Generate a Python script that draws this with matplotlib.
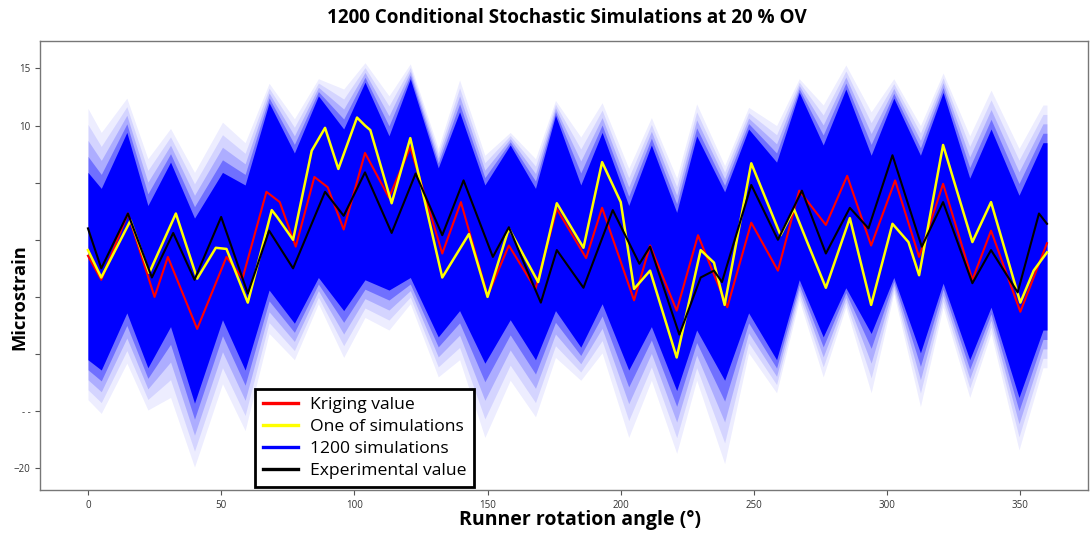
import numpy as np
import matplotlib
matplotlib.use("Agg")
import matplotlib.pyplot as plt
from matplotlib.lines import Line2D

# ---------------- data ----------------
kriging_deg = [0, 5, 15, 25, 30, 41, 52, 58, 67, 72, 78, 85, 90, 96, 104, 113, 121, 133, 140, 150,
               158, 168, 176, 187, 193, 205, 211, 221, 229, 240, 249, 259, 267, 277, 285, 294, 303,
               312, 321, 332, 339, 350, 360]
kriging_val = [-1.4, -3.5, 2.3, -5.0, -1.5, -7.8, -1.5, -3.4, 4.2, 3.3, -0.6, 5.5, 4.6, 0.9, 7.6, 3.7,
               8.1, -1.2, 3.3, -4.9, -0.5, -4.3, 2.7, -1.6, 2.8, -5.3, -0.5, -6.2, 0.4, -5.9, 1.5, -2.7,
               4.3, 1.3, 5.6, -0.5, 5.2, -1.5, 4.9, -3.5, 0.8, -6.3, -0.3]

exp_deg = [0, 5, 15, 24, 32, 40, 50, 60, 68, 77, 89, 96, 104, 114, 123, 133, 141, 152, 158, 170,
           176, 186, 197, 207, 211, 222, 230, 235, 238, 249, 259, 268, 277, 286, 293, 302, 313,
           321, 332, 339, 349, 357, 360]
exp_val = [1.0, -2.5, 2.3, -3.3, 0.6, -3.5, 2.0, -4.7, 0.8, -2.5, 4.2, 2.1, 5.9, 0.6, 5.8, 0.4, 5.2,
           -1.5, 1.1, -5.5, -0.9, -4.2, 2.6, -2.1, -0.6, -8.3, -3.3, -2.7, -3.7, 4.8, 0.0, 4.3, -1.2,
           2.8, 1.0, 7.4, -0.6, 3.3, -3.8, -0.9, -4.6, 2.3, 1.4]

sim_deg = [0, 5, 16, 23, 33, 41, 48, 52, 60, 69, 71, 77, 84, 89, 94, 101, 104, 106, 114, 121, 133,
           143, 150, 158, 169, 176, 186, 193, 200, 205, 211, 221, 230, 235, 239, 249, 260, 265, 270,
           277, 286, 294, 302, 308, 312, 321, 332, 339, 350, 355, 360]
sim_val = [-0.9, -3.3, 1.7, -2.9, 2.3, -3.4, -0.7, -0.8, -5.5, 2.6, 2.0, 0.0, 7.8, 9.8, 6.2, 10.7,
           10.0, 9.6, 3.2, 8.9, -3.3, 0.5, -5.0, 1.0, -3.7, 3.2, -0.7, 6.8, 3.3, -4.3, -2.7, -10.3,
           -0.9, -2.0, -5.7, 6.7, 0.4, 2.7, -0.2, -4.2, 1.9, -5.7, 1.4, -0.2, -3.1, 8.3, -0.2, 3.3,
           -5.5, -2.7, -1.1]

# envelope of the 1200 simulations (outer faint range and dense core)
band_deg = [0, 5, 14.6, 22.5, 31, 40, 50.5, 59, 68, 77.5, 86.5, 96, 104, 113, 121, 131.5, 139.5,
            149, 158.5, 168, 175.5, 185, 193, 203, 211.5, 221, 228.5, 239, 248, 258.5, 267, 276,
            284.5, 294, 302.5, 312.5, 321, 331, 339, 349.5, 358.5, 360]
faint_upper = [11.5, 9.4, 12.4, 7.1, 9.75, 5.9, 10.3, 8.5, 13.7, 10.6, 14.1, 13.2, 15.5, 12.6, 15.4,
               8.0, 14.0, 7.4, 9.4, 7.1, 12.2, 9.0, 12.0, 6.25, 10.7, 5.4, 11.9, 6.5, 11.6, 10.0,
               14.1, 11.8, 15.3, 11.2, 14.1, 10.0, 14.6, 9.1, 13.1, 8.0, 11.8, 11.8]
core_upper = [5.9, 4.5, 9.4, 3.0, 6.8, 1.9, 5.9, 4.8, 12.0, 7.6, 12.6, 9.7, 13.8, 9.1, 14.1, 6.3,
              11.2, 4.8, 8.3, 4.5, 10.9, 4.8, 9.4, 3.0, 8.3, 2.4, 9.1, 4.2, 9.7, 6.8, 12.9, 8.3,
              13.2, 7.4, 12.4, 7.4, 12.9, 5.4, 9.7, 3.9, 8.5, 8.5]
core_lower = [-10.5, -11.4, -6.4, -11.2, -7.6, -14.3, -7.0, -11.4, -4.4, -7.3, -3.3, -6.2, -3.5,
              -4.4, -3.3, -8.5, -6.2, -10.8, -7.0, -10.5, -6.2, -9.4, -5.6, -11.4, -7.6, -13.2,
              -7.9, -12.3, -6.4, -10.5, -3.5, -8.5, -4.2, -8.2, -3.3, -9.9, -3.8, -10.5, -5.9,
              -13.8, -7.9, -7.9]
faint_lower = [-14.0, -15.2, -10.8, -14.9, -13.8, -19.9, -12.6, -16.7, -8.2, -10.5, -5.6, -10.3,
               -6.8, -7.9, -5.6, -12.0, -10.5, -17.3, -12.3, -15.5, -10.3, -12.3, -9.9, -17.3,
               -12.3, -18.7, -12.3, -19.6, -9.9, -13.4, -5.3, -12.0, -5.9, -13.4, -4.7, -14.6,
               -5.9, -13.8, -8.2, -18.4, -11.2, -11.2]

x_ticks = [0, 50, 100, 150, 200, 250, 300, 350]
y_ticks = [-20, -15, -10, -5, 0, 5, 10, 15]
y_ticklabels = ["\u221220", "- -", "", "", "", "", "10", "15"]

title = "1200 Conditional Stochastic Simulations at 20 % OV"
xlabel = "Runner rotation angle (\u00b0)"
ylabel = "Microstrain"
legend_labels = ["Kriging value", "One of simulations", "1200 simulations", "Experimental value"]

# ---------------- figure ----------------
plt.rcParams['font.family'] = ['Open Sans', 'DejaVu Sans']
fig = plt.figure(figsize=(10.91, 5.33), dpi=100)
ax = fig.add_axes([40 / 1091, 43 / 533, 1048 / 1091, 449 / 533])

bd = np.array(band_deg)
fu, cu = np.array(faint_upper), np.array(core_upper)
cl, fl = np.array(core_lower), np.array(faint_lower)

# soft gradient from the faint range into the dense core
ax.fill_between(bd, fl, fu, color='#0000ff', alpha=0.07, lw=0, zorder=1)
for t, a in [(0.25, 0.10), (0.5, 0.18), (0.75, 0.35)]:
    ax.fill_between(bd, fl + t * (cl - fl), fu + t * (cu - fu), color='#0000ff', alpha=a, lw=0,
                    zorder=1)
ax.fill_between(bd, cl, cu, color='#0000ff', alpha=1.0, lw=0, zorder=2)

ax.plot(kriging_deg, kriging_val, color='#ff0000', lw=1.5, zorder=4)
ax.plot(sim_deg, sim_val, color='#ffff00', lw=1.8, zorder=5)
ax.plot(exp_deg, exp_val, color='black', lw=1.5, zorder=6)

ax.set_xlim(-18, 375.4)
ax.set_ylim(-21.9, 17.4)
ax.set_xticks(x_ticks)
ax.set_xticklabels([str(v) for v in x_ticks])
ax.set_yticks(y_ticks)
ax.set_yticklabels(y_ticklabels)
ax.tick_params(axis='both', labelsize=7, colors='#555555', labelcolor='#333333', length=3.5,
               width=0.8)
for s in ax.spines.values():
    s.set_color('#777777')
    s.set_linewidth(1.0)

handles = [Line2D([], [], color=c, lw=2.4) for c in ['#ff0000', '#ffff00', '#0000ff', 'black']]
leg = ax.legend(handles, legend_labels, loc='lower left', bbox_to_anchor=(0.205, 0.006),
                fontsize=12.6, frameon=True, fancybox=False, handlelength=2.0,
                handletextpad=0.7, borderpad=0.45, labelspacing=0.33, borderaxespad=0)
leg.get_frame().set_edgecolor('black')
leg.get_frame().set_linewidth(2.0)
leg.get_frame().set_alpha(1.0)
leg.set_zorder(10)

fig.text(0.520, 0.966, title, ha='center', va='center', fontsize=13.6, fontweight='bold')
fig.text(0.532, 0.024, xlabel, ha='center', va='center', fontsize=14, fontweight='bold')
fig.text(0.018, 0.443, ylabel, ha='center', va='center', rotation=90, fontsize=13.2,
         fontweight='bold')

fig.savefig('out.png', dpi=100)
